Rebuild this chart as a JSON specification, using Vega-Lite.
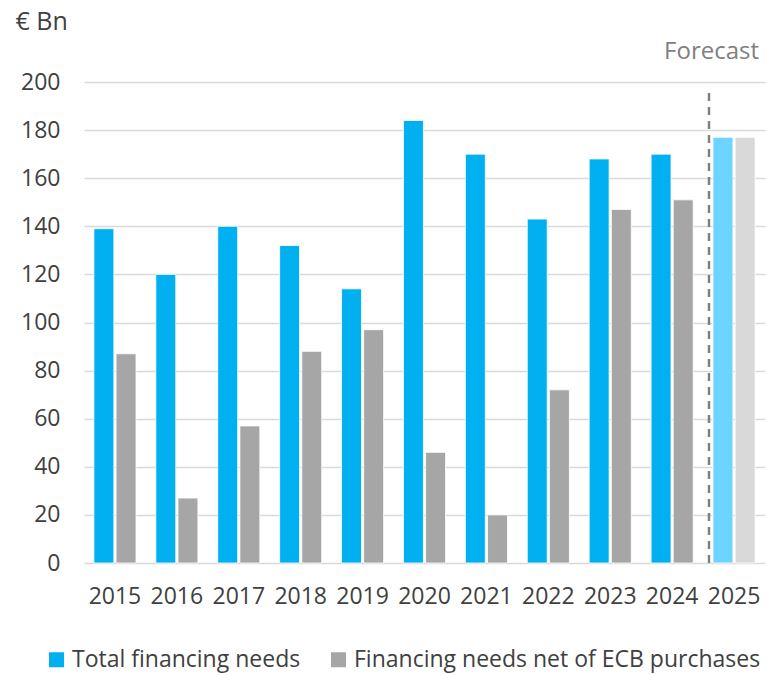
{
  "$schema": "https://vega.github.io/schema/vega-lite/v6.json",
  "autosize": {"type": "none"},
  "width": 681,
  "height": 481,
  "padding": {"left": 84, "top": 82, "right": 2, "bottom": 112},
  "config": {
    "font": "Open Sans",
    "view": {"stroke": null},
    "axis": {"labelFont": "Open Sans", "titleFont": "Open Sans"}
  },
  "title": {
    "text": "Forecast",
    "anchor": "end",
    "frame": "group",
    "orient": "top",
    "offset": -55,
    "dx": -6,
    "fontSize": 24,
    "fontWeight": "normal",
    "color": "#808080",
    "font": "Open Sans"
  },
  "datasets": {
    "bars": [
      {"year": "2015", "series": "Total financing needs", "key": "Total financing needs", "value": 139},
      {"year": "2015", "series": "Financing needs net of ECB purchases", "key": "Financing needs net of ECB purchases", "value": 87},
      {"year": "2016", "series": "Total financing needs", "key": "Total financing needs", "value": 120},
      {"year": "2016", "series": "Financing needs net of ECB purchases", "key": "Financing needs net of ECB purchases", "value": 27},
      {"year": "2017", "series": "Total financing needs", "key": "Total financing needs", "value": 140},
      {"year": "2017", "series": "Financing needs net of ECB purchases", "key": "Financing needs net of ECB purchases", "value": 57},
      {"year": "2018", "series": "Total financing needs", "key": "Total financing needs", "value": 132},
      {"year": "2018", "series": "Financing needs net of ECB purchases", "key": "Financing needs net of ECB purchases", "value": 88},
      {"year": "2019", "series": "Total financing needs", "key": "Total financing needs", "value": 114},
      {"year": "2019", "series": "Financing needs net of ECB purchases", "key": "Financing needs net of ECB purchases", "value": 97},
      {"year": "2020", "series": "Total financing needs", "key": "Total financing needs", "value": 184},
      {"year": "2020", "series": "Financing needs net of ECB purchases", "key": "Financing needs net of ECB purchases", "value": 46},
      {"year": "2021", "series": "Total financing needs", "key": "Total financing needs", "value": 170},
      {"year": "2021", "series": "Financing needs net of ECB purchases", "key": "Financing needs net of ECB purchases", "value": 20},
      {"year": "2022", "series": "Total financing needs", "key": "Total financing needs", "value": 143},
      {"year": "2022", "series": "Financing needs net of ECB purchases", "key": "Financing needs net of ECB purchases", "value": 72},
      {"year": "2023", "series": "Total financing needs", "key": "Total financing needs", "value": 168},
      {"year": "2023", "series": "Financing needs net of ECB purchases", "key": "Financing needs net of ECB purchases", "value": 147},
      {"year": "2024", "series": "Total financing needs", "key": "Total financing needs", "value": 170},
      {"year": "2024", "series": "Financing needs net of ECB purchases", "key": "Financing needs net of ECB purchases", "value": 151},
      {"year": "2025", "series": "Total financing needs", "key": "Total financing needs (forecast)", "value": 177},
      {"year": "2025", "series": "Financing needs net of ECB purchases", "key": "Financing needs net of ECB purchases (forecast)", "value": 177}
    ],
    "divider": [
      {"year": "2025", "lo": 0, "hi": 196}
    ]
  },
  "layer": [
    {
      "data": {"name": "bars"},
      "mark": {"type": "bar", "stroke": "white", "strokeWidth": 0.8},
      "encoding": {
        "x": {
          "field": "year",
          "type": "nominal",
          "sort": null,
          "scale": {"paddingInner": 0.32, "paddingOuter": 0.16},
          "axis": {
            "title": null,
            "labelAngle": 0,
            "domain": false,
            "ticks": false,
            "labelFontSize": 23,
            "labelColor": "#404040",
            "labelPadding": 22
          }
        },
        "xOffset": {
          "field": "series",
          "type": "nominal",
          "sort": ["Total financing needs", "Financing needs net of ECB purchases"],
          "scale": {"paddingInner": 0.1, "paddingOuter": 0}
        },
        "y": {
          "field": "value",
          "type": "quantitative",
          "scale": {"domain": [0, 200], "nice": false},
          "axis": {
            "title": "€ Bn",
            "titleAngle": 0,
            "titleAlign": "left",
            "titleBaseline": "middle",
            "titleX": -69,
            "titleY": -61,
            "titleFontSize": 25,
            "titleFontWeight": "normal",
            "titleColor": "#404040",
            "values": [0, 20, 40, 60, 80, 100, 120, 140, 160, 180, 200],
            "domain": false,
            "ticks": false,
            "labelFontSize": 23,
            "labelColor": "#404040",
            "labelPadding": 24,
            "gridColor": "#D9D9D9",
            "gridWidth": 1.5
          }
        },
        "color": {
          "field": "key",
          "type": "nominal",
          "scale": {
            "domain": ["Total financing needs", "Financing needs net of ECB purchases", "Total financing needs (forecast)", "Financing needs net of ECB purchases (forecast)"],
            "range": ["#00B0F0", "#A6A6A6", "#6DD3FF", "#D9D9D9"]
          },
          "legend": {
            "title": null,
            "values": ["Total financing needs", "Financing needs net of ECB purchases"],
            "orient": "none",
            "direction": "horizontal",
            "legendX": -39,
            "legendY": 566,
            "symbolType": "square",
            "symbolSize": 225,
            "symbolStrokeWidth": 0,
            "labelFontSize": 23,
            "labelColor": "#404040",
            "labelOffset": 4,
            "columnPadding": 26,
            "labelLimit": 500
          }
        }
      }
    },
    {
      "data": {"name": "divider"},
      "mark": {"type": "rule", "color": "#808080", "strokeWidth": 2.5, "strokeDash": [8, 6], "xOffset": -4},
      "encoding": {
        "x": {"field": "year", "type": "nominal", "bandPosition": 0},
        "y": {"field": "lo", "type": "quantitative"},
        "y2": {"field": "hi"}
      }
    }
  ]
}
